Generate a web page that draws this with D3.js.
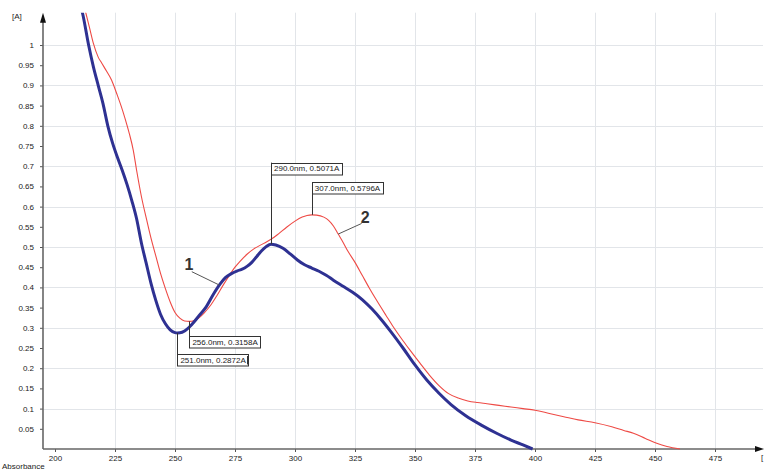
<!DOCTYPE html>
<html>
<head>
<meta charset="utf-8">
<script src="https://cdn.jsdelivr.net/npm/d3@7"></script>
<style>
  html, body { margin: 0; padding: 0; background: #ffffff; }
  svg { display: block; font-family: "Liberation Sans", Arial, sans-serif; }
</style>
</head>
<body>
<svg id="chart" width="767" height="473"></svg>
<script>
// Absorbance spectra, wavelength in nm, absorbance in A
const spectrum1Wavelength = [
  210, 211.5, 214, 216, 218, 220, 222, 224, 226, 228, 230, 232, 234, 236, 238,
  240, 242, 244, 246, 248, 250, 251, 252, 254, 256, 258, 260, 263, 266, 268.75,
  271, 273.5, 276, 278, 280, 282, 284, 286, 288, 290, 292, 295, 298, 301,
  304, 307, 310, 313, 316, 320, 324, 328, 332, 336, 340, 345, 350, 355,
  360, 365, 371, 378, 384, 390, 395, 399
];
const spectrum1Absorbance = [
  1.11, 1.078, 1.00, 0.946, 0.90, 0.855, 0.80, 0.757, 0.722, 0.69, 0.655, 0.615, 0.57, 0.51, 0.46,
  0.41, 0.368, 0.333, 0.31, 0.295, 0.288, 0.2872, 0.2875, 0.292, 0.302, 0.315, 0.330, 0.352, 0.383, 0.408,
  0.424, 0.434, 0.441, 0.445, 0.452, 0.462, 0.476, 0.490, 0.501, 0.5071, 0.505, 0.497, 0.483, 0.468,
  0.456, 0.448, 0.440, 0.430, 0.418, 0.403, 0.388, 0.370, 0.347, 0.320, 0.290, 0.250, 0.208, 0.170,
  0.138, 0.110, 0.083, 0.058, 0.039, 0.022, 0.010, 0.0
];

const spectrum2Wavelength = [
  211.5, 212.9, 214.5, 216, 218, 219.5, 221.5, 223.6, 225.7, 227.5, 229.2, 231, 232.6, 234, 236,
  238.2, 240, 242, 244, 246, 248, 250, 252, 254, 256, 258, 260, 262, 265, 267.5,
  270, 273, 275, 277, 280, 283, 287, 290, 293, 296.5, 300, 303, 305, 307, 309,
  312, 314, 316, 318, 320, 322, 325, 328, 331, 334, 338, 341, 345, 348, 352,
  356, 360, 364, 368, 372, 376, 380, 385, 390, 395, 400, 406, 412, 418, 425,
  432, 437, 441, 446, 450.7, 455, 460.4
];
const spectrum2Absorbance = [
  1.11, 1.078, 1.04, 1.004, 0.97, 0.955, 0.935, 0.913, 0.88, 0.85, 0.818, 0.78, 0.74, 0.69, 0.625,
  0.567, 0.522, 0.478, 0.434, 0.397, 0.364, 0.338, 0.324, 0.317, 0.3158, 0.318, 0.325, 0.336, 0.357, 0.380,
  0.405, 0.433, 0.450, 0.464, 0.482, 0.496, 0.509, 0.519, 0.532, 0.549, 0.564, 0.574, 0.578, 0.5796, 0.579,
  0.574, 0.566, 0.552, 0.532, 0.512, 0.490, 0.462, 0.430, 0.398, 0.368, 0.330, 0.302, 0.268, 0.244, 0.213,
  0.183, 0.157, 0.137, 0.126, 0.119, 0.115, 0.112, 0.108, 0.104, 0.100, 0.096, 0.088, 0.080, 0.072, 0.065,
  0.055, 0.046, 0.039, 0.026, 0.014, 0.006, 0.0
];

// Axis ticks
const xTicks = [200, 225, 250, 275, 300, 325, 350, 375, 400, 425, 450, 475];
const yTicks = [0.05, 0.1, 0.15, 0.2, 0.25, 0.3, 0.35, 0.4, 0.45, 0.5, 0.55, 0.6, 0.65,
                0.7, 0.75, 0.8, 0.85, 0.9, 0.95, 1];
const xGrid = [225, 250, 275, 300, 325, 350, 375, 400, 425, 450, 475];
const yGrid = [0.1, 0.2, 0.3, 0.4, 0.5, 0.6, 0.7, 0.8, 0.9, 1];

// Marked peaks and minima: [spectrum, wavelength, absorbance]
const markers = [
  ["1", 290, 0.5071],
  ["2", 307, 0.5796],
  ["2", 256, 0.3158],
  ["1", 251, 0.2872]
];

// Curve labels: [text, spectrum, wavelength on the curve]
const curveLabels = [
  ["1", "1", 268.5],
  ["2", "2", 318]
];

const svg = d3.select("#chart");
const padL = 43, padR = 763, padB = 449, padT = 12.7;

const x = d3.scaleLinear().domain([195, 495]).range([padL, padR]);
const y = d3.scaleLinear().domain([0, 1.08]).range([padB, padT]);

// grid
const grid = svg.append("g").attr("stroke", "#e2e5e9").attr("stroke-width", 1);
grid.selectAll("line.v").data(xGrid).join("line").attr("class", "v")
  .attr("x1", d => Math.round(x(d)) + 0.5).attr("x2", d => Math.round(x(d)) + 0.5)
  .attr("y1", padT).attr("y2", padB);
grid.selectAll("line.h").data(yGrid).join("line").attr("class", "h")
  .attr("x1", padL).attr("x2", padR)
  .attr("y1", d => Math.round(y(d)) + 0.5).attr("y2", d => Math.round(y(d)) + 0.5);

// axes
const fmt = v => String(+v.toFixed(2));
const yAxis = svg.append("g").attr("transform", `translate(${padL},0)`)
  .call(d3.axisLeft(y).tickValues(yTicks).tickSize(3).tickPadding(6).tickFormat(fmt));
const xAxis = svg.append("g").attr("transform", `translate(0,${padB})`)
  .call(d3.axisBottom(x).tickValues(xTicks).tickSize(3).tickPadding(3).tickFormat(d3.format("d")));
[yAxis, xAxis].forEach(g => {
  g.select(".domain").remove();
  g.selectAll(".tick line").attr("stroke", "#555");
  g.selectAll("text").attr("font-size", 8).attr("fill", "#222")
    .attr("font-family", "'Liberation Sans', Arial, sans-serif");
});

svg.append("line").attr("x1", padL).attr("x2", padL).attr("y1", padB).attr("y2", 16)
  .attr("stroke", "#666").attr("stroke-width", 1.6);
svg.append("line").attr("x1", padL).attr("x2", padR - 3).attr("y1", padB).attr("y2", padB)
  .attr("stroke", "#666").attr("stroke-width", 1.6);
svg.append("path").attr("d", `M${padL},${padT} L${padL - 3},${padT + 10} L${padL + 3},${padT + 10} Z`).attr("fill", "#111");
svg.append("path").attr("d", `M${padR + 1},${padB} L${padR - 8},${padB - 3} L${padR - 8},${padB + 3} Z`).attr("fill", "#111");

svg.append("text").attr("x", 12).attr("y", 19).attr("font-size", 8).attr("fill", "#222").text("[A]");
svg.append("text").attr("x", 2).attr("y", 469).attr("font-size", 8).attr("fill", "#222").text("Absorbance");
svg.append("text").attr("x", 761).attr("y", 460).attr("font-size", 8).attr("fill", "#222").text("[");

// spectra
svg.append("clipPath").attr("id", "plot").append("rect")
  .attr("x", padL).attr("y", padT).attr("width", padR - padL).attr("height", padB - padT + 2);

const line = d3.line().x(d => x(d[0])).y(d => y(d[1])).curve(d3.curveMonotoneX);
const s1 = spectrum1Wavelength.map((w, i) => [w, spectrum1Absorbance[i]]);
const s2 = spectrum2Wavelength.map((w, i) => [w, spectrum2Absorbance[i]]);
const series = { "1": s1, "2": s2 };

const plot = svg.append("g").attr("clip-path", "url(#plot)");
plot.append("path").datum(s2).attr("d", line)
  .attr("fill", "none").attr("stroke", "#ee4a45").attr("stroke-width", 1.1);
plot.append("path").datum(s1).attr("d", line)
  .attr("fill", "none").attr("stroke", "#2e3192").attr("stroke-width", 3).attr("stroke-linejoin", "round");

// curve labels with leader lines
const labelOffsets = {
  "1": { lx: -27.6, ly: -13.4, tx: -35, ty: -15 },
  "2": { lx: 23.4, ly: -10.6, tx: 22.5, ty: -11.5 }
};
curveLabels.forEach(([txt, s, w]) => {
  const pts = series[s];
  const k = pts.findIndex(p => p[0] >= w);
  const a = pts[k - 1], b = pts[k];
  const t = (w - a[0]) / (b[0] - a[0]);
  const px = x(w), py = y(a[1] + t * (b[1] - a[1]));
  const o = labelOffsets[txt];
  svg.append("line").attr("x1", px).attr("y1", py).attr("x2", px + o.lx).attr("y2", py + o.ly)
    .attr("stroke", "#555").attr("stroke-width", 1);
  svg.append("text").attr("x", px + o.tx).attr("y", py + o.ty)
    .attr("font-size", 16).attr("font-weight", "bold").attr("fill", "#333").text(txt);
});

// value callouts
const calloutShift = { 290: -70, 307: -21, 256: 14.6, 251: 21 };
const boxH = 11.5;
markers.forEach(([s, w, a]) => {
  const px = x(w), py = y(a);
  const label = `${w.toFixed(1)}nm, ${a.toFixed(4)}A`;
  const shift = calloutShift[w];
  const g = svg.append("g");
  const t = g.append("text").attr("font-size", 8).attr("fill", "#222").text(label);
  const tw = t.node().getComputedTextLength();
  const bw = tw + 6;
  const by = shift < 0 ? py + shift - boxH : py + shift;
  g.insert("rect", "text").attr("x", Math.round(px) + 0.5).attr("y", Math.round(by) + 0.5)
    .attr("width", Math.round(bw)).attr("height", boxH)
    .attr("fill", "#fff").attr("stroke", "#333").attr("stroke-width", 1);
  t.attr("x", px + 3).attr("y", by + 8.7);
  const yEnd = shift < 0 ? by : by + boxH;
  g.append("line").attr("x1", Math.round(px) + 0.5).attr("x2", Math.round(px) + 0.5)
    .attr("y1", py).attr("y2", yEnd).attr("stroke", "#333").attr("stroke-width", 1);
  if (w === 251) {
    g.append("line").attr("x1", Math.round(px + bw) - 1.5).attr("x2", Math.round(px + bw) - 1.5)
      .attr("y1", by + 2).attr("y2", by + boxH - 1).attr("stroke", "#333").attr("stroke-width", 1);
  }
});
</script>
</body>
</html>
